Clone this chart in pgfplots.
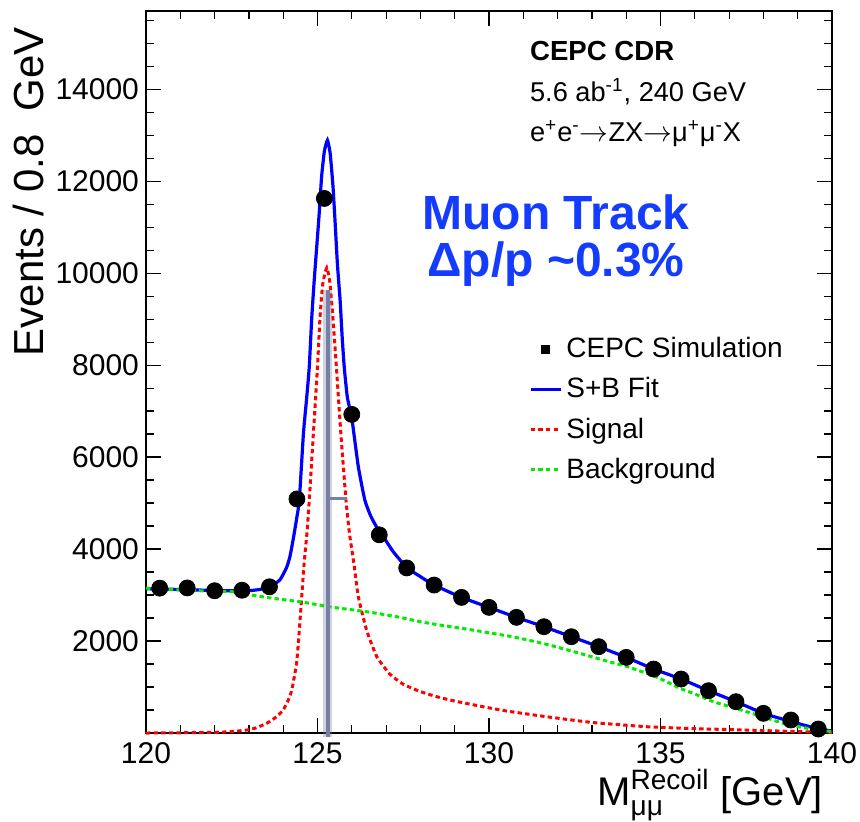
\documentclass[border=0pt]{standalone}
\usepackage{fontspec}
\setmainfont{Liberation Sans}
\usepackage{amsmath}
\usepackage{pgfplots}
\pgfplotsset{compat=1.18}

\definecolor{fitblue}{RGB}{0,0,255}
\definecolor{sigred}{RGB}{255,0,0}
\definecolor{bkggreen}{RGB}{0,235,0}
\definecolor{labelblue}{RGB}{20,60,255}
\definecolor{markgray}{RGB}{118,128,165}

\begin{document}
\begin{tikzpicture}
\path[use as bounding box] (-73pt,-44pt) rectangle (357pt,366.5pt);
\begin{axis}[
    at={(0,0)}, anchor=south west,
    width=343pt, height=361pt, scale only axis,
    xmin=120, xmax=140, ymin=0, ymax=15700,
    xtick={120,125,...,140}, minor xtick={121,...,139},
    ytick={2000,4000,...,14000}, minor ytick={500,1000,...,15500},
    scaled y ticks=false,
    /pgf/number format/1000 sep={},
    /pgf/number format/assume math mode=true,
    tick label style={font=\fontsize{15}{18}\selectfont},
    xticklabel style={yshift=-1pt},
    major tick length=7.5pt, minor tick length=4pt,
    every tick/.style={black, line width=0.6pt},
    axis line style={line width=1pt},
    clip=false,
    xlabel={M$^{\text{Recoil}}_{\text{μμ}}$ [GeV]},
    xlabel style={at={(axis description cs:0.997,-0.0997)}, anchor=base east,
        font=\fontsize{20}{24}\selectfont},
    ylabel={Events / 0.8~~GeV},
    ylabel style={at={(axis description cs:-0.1706,0.9875)}, anchor=east,
        font=\fontsize{21}{24}\selectfont},
    legend style={draw=none, fill=none, at={(axis description cs:0.558,0.554)},
        anchor=north west, font=\fontsize{14}{16}\selectfont,
        row sep=4.5pt, inner sep=0pt},
    legend cell align=left,
    legend image code/.code={\draw[#1] (0pt,0pt) -- (15pt,0pt);},
]

% simulated events, 0.8 GeV bins
\addplot[only marks, mark=*, mark size=4pt, black,
    legend image code/.code={\fill[black] (5.5pt,-2pt) rectangle (9.5pt,2pt);}]
    coordinates {
    (120.4,3150) (121.2,3155) (122.0,3094) (122.8,3105) (123.6,3180)
    (124.4,5090) (125.2,11624) (126.0,6928) (126.8,4310) (127.6,3590)
    (128.4,3217) (129.2,2949) (130.0,2732) (130.8,2515) (131.6,2312)
    (132.4,2094) (133.2,1877) (134.0,1645) (134.8,1391) (135.6,1174)
    (136.4,920) (137.2,681) (138.0,428) (138.8,283) (139.6,87)
};
\addlegendentry{CEPC Simulation}

% S+B fit
\addplot[fitblue, line width=1.6pt, smooth, tension=0.3] coordinates {
    (120.0,3135) (120.5,3130) (121.0,3120) (121.5,3110) (122.0,3100)
    (122.5,3092) (123.0,3095) (123.3,3120) (123.6,3180) (123.9,3326)
    (124.1,3600) (124.2,3850) (124.3,4250) (124.4,4700) (124.47,5065)
    (124.59,6515) (124.68,7250) (124.76,7963) (124.83,9000) (124.9,9800)
    (124.98,10600) (125.05,11300) (125.12,12100) (125.2,12650) (125.29,12890)
    (125.37,12600) (125.45,11900) (125.51,11150) (125.58,10200) (125.66,9400)
    (125.72,8600) (125.78,7950) (125.87,7300) (126.0,6850) (126.19,5790)
    (126.38,5065) (126.55,4720) (126.73,4470) (126.87,4326) (127.2,3950)
    (127.6,3601) (128.0,3400) (128.4,3217) (129.2,2949) (130.0,2732)
    (130.8,2515) (131.6,2312) (132.4,2094) (133.2,1877) (134.0,1645)
    (134.8,1391) (135.6,1174) (136.4,920) (137.2,681) (138.0,428)
    (138.8,250) (139.6,90) (140.0,45)
};
\addlegendentry{S+B Fit}

% signal
\addplot[sigred, line width=1.5pt, dash pattern=on 2.2pt off 1.6pt, smooth, tension=0.3] coordinates {
    (120.0,0) (121.0,5) (122.0,15) (122.45,28) (122.94,65) (123.2,110)
    (123.52,211) (123.8,350) (124.0,500) (124.15,720) (124.25,935)
    (124.39,1515) (124.47,2239) (124.54,2963) (124.61,3689) (124.70,4413)
    (124.76,5065) (124.88,6515) (125.0,7963) (125.07,9000) (125.15,9750)
    (125.27,10120) (125.36,9800) (125.44,9124) (125.55,7963) (125.68,6522)
    (125.83,5065) (125.93,4348) (126.06,3689) (126.19,2963) (126.43,2239)
    (126.73,1659) (127.11,1280) (127.5,1060) (128.0,900) (128.5,785)
    (129.0,695) (129.7,590) (130.5,480) (131.68,354) (133.0,230) (134.6,137)
    (136.0,95) (137.5,65) (139.0,30) (140.0,15)
};
\addlegendentry{Signal}

% background
\addplot[bkggreen, line width=1.5pt, dash pattern=on 2.2pt off 1.6pt, smooth, tension=0.3] coordinates {
    (120.0,3150) (120.5,3130) (121.0,3110) (121.5,3095) (122.0,3085)
    (122.55,3072) (123.0,3010) (123.52,2949) (124.0,2900) (124.49,2855)
    (125.0,2790) (125.46,2732) (126.0,2680) (126.43,2638) (127.0,2570)
    (127.4,2515) (128.0,2420) (128.38,2370) (129.0,2300) (129.64,2225)
    (130.2,2155) (130.71,2090) (131.5,1960) (132.0,1865) (132.65,1732)
    (133.5,1550) (134.0,1450) (134.6,1297) (135.0,1180) (135.57,971)
    (136.0,850) (136.54,681) (137.0,580) (137.51,464) (138.0,350)
    (138.48,232) (139.0,140) (139.46,80) (140.0,30)
};
\addlegendentry{Background}

% grey marker line
\addplot[markgray, opacity=0.35, line width=4.5pt, forget plot] coordinates {(125.3,-80) (125.3,9630)};
\addplot[markgray, line width=2.2pt, forget plot] coordinates {(125.3,-80) (125.3,9630)};
\addplot[markgray, line width=1.5pt, forget plot] coordinates {(125.3,5108) (125.85,5108)};

\node[anchor=base west, font=\fontsize{13.8}{16}\selectfont\bfseries]
    at (axis description cs:0.5496,0.9321) {CEPC CDR};
\node[anchor=base west, font=\fontsize{13.6}{16}\selectfont]
    at (axis description cs:0.5496,0.8742) {5.6 ab\textsuperscript{-1}, 240 GeV};
\node[anchor=base west, font=\fontsize{13.6}{16}\selectfont]
    at (axis description cs:0.5496,0.8188) {e\textsuperscript{+}e\textsuperscript{-}\ensuremath{\rightarrow}ZX\ensuremath{\rightarrow}μ\textsuperscript{+}μ\textsuperscript{-}X};
\node[anchor=base, font=\fontsize{24}{28}\selectfont\bfseries, text=labelblue]
    at (axis description cs:0.5977,0.6967) {Muon Track};
\node[anchor=base, font=\fontsize{24}{28}\selectfont\bfseries, text=labelblue]
    at (axis description cs:0.5977,0.6316) {Δp/p \textasciitilde0.3\%};
\end{axis}
\end{tikzpicture}
\end{document}
